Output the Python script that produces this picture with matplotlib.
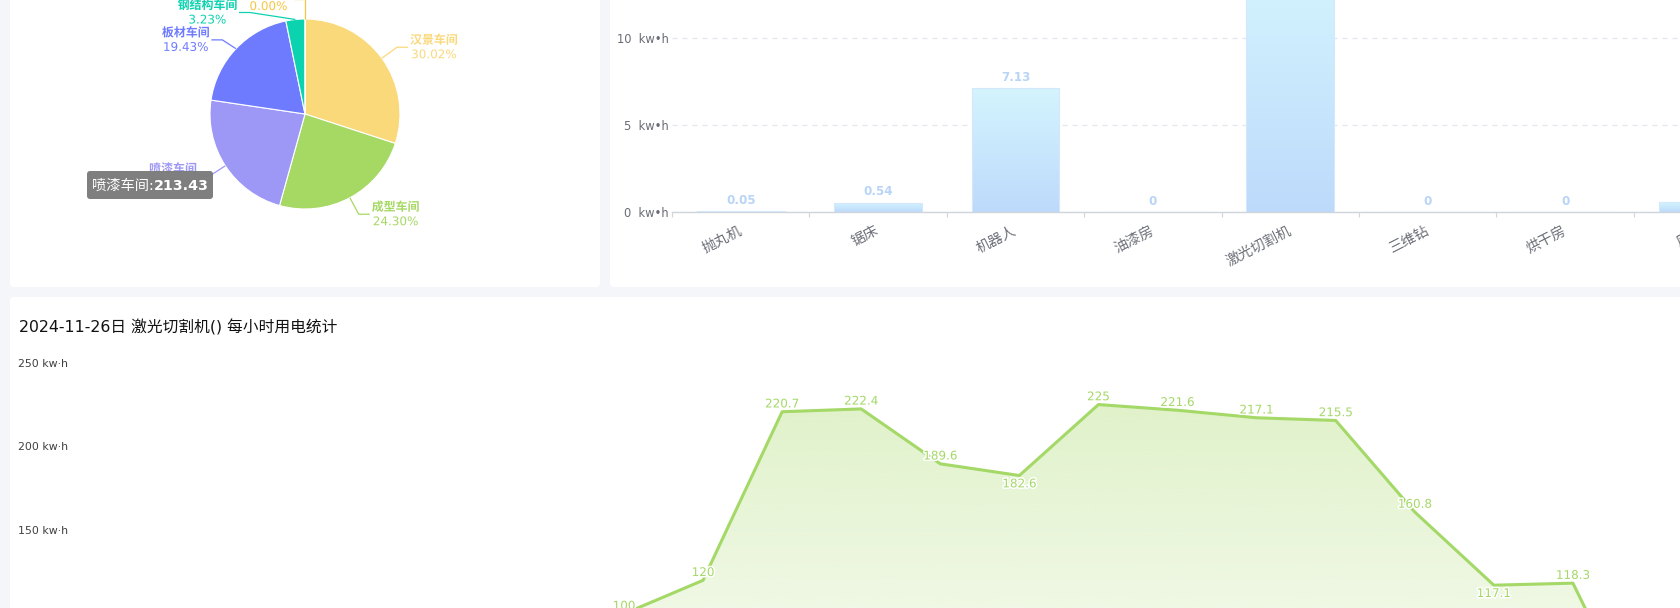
import numpy as np
import matplotlib
matplotlib.use('Agg')
import matplotlib.pyplot as plt
import matplotlib.patheffects as pe
from matplotlib.patches import FancyBboxPatch
from matplotlib.colors import LinearSegmentedColormap, to_rgb

# Latin glyphs from DejaVu, Chinese glyphs fall back to Noto Sans CJK
plt.rcParams['font.family'] = ['DejaVu Sans', 'Noto Sans CJK SC']

W, H, DPI = 1681, 608, 100

# ---- workshop energy share (pie) ----
workshops = ['汉景车间', '成型车间', '喷漆车间', '板材车间', '钢结构车间', '装配车间']
workshop_kwh = [278.33, 225.30, 213.43, 180.15, 29.95, 0.0]
workshop_colors = ['#fad97b', '#a6d864', '#9d97f5', '#6e7bff', '#0bd3b0', '#f5c542']
highlight = '喷漆车间'

# ---- device energy (bar) ----
devices = ['抛丸机', '锯床', '机器人', '油漆房', '激光切割机', '三维钻', '烘干房', '风机']
device_kwh = [0.05, 0.54, 7.13, 0, 13.86, 0, 0, 0.56]

# ---- hourly energy of one device (area line) ----
report_date = '2024-11-26'
device_name = '激光切割机'
hours = [f'{h:02d}:00' for h in range(24)]
hourly_kwh = [12.4, 11.8, 12.1, 11.6, 12.0, 13.5, 48.2, 100, 120, 220.7, 222.4,
              189.6, 182.6, 225, 221.6, 217.1, 215.5, 160.8, 117.1, 118.3,
              22.0, 12.6, 11.9, 12.2]


def fx(x):
    return x / W


def fy(y):
    return 1 - y / H


fig = plt.figure(figsize=(W / DPI, H / DPI), dpi=DPI, facecolor='#f5f6f9')
renderer = fig.canvas.get_renderer()

# ---- dashboard cards ----
bg = fig.add_axes([0, 0, 1, 1], zorder=-5)
bg.set_xlim(0, W)
bg.set_ylim(H, 0)
bg.axis('off')
for x0, y0, x1, y1 in [(10, -20, 600, 287), (610, -20, W + 20, 287), (10, 297, W + 20, H + 20)]:
    bg.add_patch(FancyBboxPatch((x0, y0), x1 - x0, y1 - y0,
                                boxstyle='round,pad=0,rounding_size=4',
                                fc='white', ec='none'))

# ---- pie ----
ax_pie = fig.add_axes([0, 0, 1, 1], zorder=2)
cx, cy, R = 305, 114, 95
wedges, _ = ax_pie.pie(workshop_kwh, colors=workshop_colors, center=(cx, cy), radius=R,
                       startangle=-90, counterclock=True,
                       wedgeprops=dict(ec='white', lw=0.8))
ax_pie.set_xlim(0, W)
ax_pie.set_ylim(H, 0)
ax_pie.set_aspect('auto')
ax_pie.axis('off')

total = sum(workshop_kwh)
L1, L2 = 18.7, 11
elbow_fix = {4: (250, 12.5), 5: (305, -1)}   # labels pushed aside near the top
elbow_shift = {3: 4}
halo = [pe.withStroke(linewidth=2.2, foreground='white')]
for i, (w, name, v, col) in enumerate(zip(wedges, workshops, workshop_kwh, workshop_colors)):
    th = np.deg2rad((w.theta1 + w.theta2) / 2)
    ex, ey = cx + R * np.cos(th), cy + R * np.sin(th)
    if i in elbow_fix:
        bx, by = elbow_fix[i]
    else:
        bx, by = cx + (R + L1) * np.cos(th), cy + (R + L1) * np.sin(th) + elbow_shift.get(i, 0)
    side = 1 if np.cos(th) > 0.01 else -1
    tx = bx + side * L2
    ax_pie.plot([ex, bx, tx], [ey, by, by], color=col, lw=0.9, solid_capstyle='butt')
    t1 = ax_pie.text(0, by - 7, name, color=col, fontsize=8.6, fontweight='bold',
                     ha='center', va='center', path_effects=halo)
    t2 = ax_pie.text(0, by + 7.5, f'{v / total * 100:.2f}%', color=col, fontsize=8.6,
                     ha='center', va='center', path_effects=halo)
    bw = max(t1.get_window_extent(renderer).width, t2.get_window_extent(renderer).width)
    mid = tx + side * (2 + bw / 2)
    t1.set_x(mid)
    t2.set_x(mid)

# tooltip for the hovered slice
hi = workshops.index(highlight)
ax_pie.add_patch(FancyBboxPatch((87, 171), 126, 28, boxstyle='round,pad=0,rounding_size=3',
                                fc='#7b7b7b', ec='none', alpha=0.97, zorder=6))
tn = ax_pie.text(92, 185.5, f'{highlight}:', color='white', fontsize=10.3, ha='left',
                 va='center', zorder=7)
tw = tn.get_window_extent(renderer).width
ax_pie.text(92 + tw, 185.5, f'{workshop_kwh[hi]:.2f}', color='white', fontsize=10.3,
            fontweight='bold', ha='left', va='center', zorder=7)

# ---- bar chart ----
cat_w, ppu, y_base, ymax = 137.4, 17.36, 212, 15
n = len(devices)
ax_bar = fig.add_axes([fx(672), fy(y_base), n * cat_w / W, ymax * ppu / H], zorder=2)
ax_bar.patch.set_alpha(0)
xs = np.arange(n)
bars = ax_bar.bar(xs, device_kwh, width=0.64, color='none', ec='#d3e8fb', lw=0.8, zorder=3)
grad = np.linspace(0, 1, 256)[:, None]
bar_cmap = LinearSegmentedColormap.from_list('barfill', ['#bddafb', '#d4f4fe'])
for b in bars:
    if b.get_height() <= 0:
        continue
    im = ax_bar.imshow(grad, cmap=bar_cmap, origin='lower', aspect='auto', zorder=2,
                       extent=(b.get_x(), b.get_x() + b.get_width(), 0, b.get_height()))
    im.set_clip_path(b)
for b, v in zip(bars, device_kwh):
    ax_bar.annotate(f'{v:g}', (b.get_x() + b.get_width() / 2, v), xytext=(0, 3),
                    textcoords='offset points', ha='center', va='bottom',
                    color='#b8d4f6', fontsize=8.6, fontweight='bold', zorder=4)
ax_bar.set_xlim(-0.5, n - 0.5)
ax_bar.set_ylim(0, ymax)
yt = np.arange(0, ymax + 1, 5)
ax_bar.set_yticks(yt, [f'{int(t)}  kw•h' for t in yt])
ax_bar.tick_params(axis='y', length=0, pad=2.5, labelsize=8.3, labelcolor='#6a6c75')
ax_bar.set_xticks(xs, devices)
ax_bar.tick_params(axis='x', length=0, pad=13, labelsize=10.3, labelcolor='#6e7079')
for lab in ax_bar.get_xticklabels():
    lab.set_rotation(27)
    lab.set_ha('right')
    lab.set_rotation_mode('anchor')
    lab.set_va('center')
ax_bar.set_xticks(np.arange(n + 1) - 0.5, minor=True)
ax_bar.tick_params(axis='x', which='minor', length=3.6, color='#d0d4db', width=0.8)
ax_bar.yaxis.grid(True, ls=(0, (4, 4)), color='#e3e7ef', lw=0.9)
ax_bar.set_axisbelow(True)
for s in ('left', 'top', 'right'):
    ax_bar.spines[s].set_visible(False)
ax_bar.spines['bottom'].set_color('#d0d4db')
ax_bar.spines['bottom'].set_linewidth(1)

# ---- hourly area line ----
x0, step, y_top, ppu2, vmax = 70.4, 79.08, 362.7, 1.674, 250
ax_line = fig.add_axes([fx(x0), fy(y_top + vmax * ppu2), (len(hours) - 1) * step / W,
                        vmax * ppu2 / H], zorder=2)
ax_line.patch.set_alpha(0)
hx = np.arange(len(hours))
green = '#a4d867'
ax_line.plot(hx, hourly_kwh, color=green, lw=2.2, solid_joinstyle='round', zorder=3)
area = ax_line.fill_between(hx, hourly_kwh, 0, color='none')
rgb = np.array(to_rgb('#a5d863'))
fill_img = np.zeros((256, 1, 4))
fill_img[..., :3] = rgb
fill_img[:, 0, 3] = np.linspace(0.03, 0.34, 256)
im = ax_line.imshow(fill_img, origin='lower', aspect='auto', zorder=2,
                    extent=(0, len(hours) - 1, 0, max(hourly_kwh)))
im.set_clip_path(area.get_paths()[0], transform=ax_line.transData)
for i, v in enumerate(hourly_kwh):
    prev_v = hourly_kwh[i - 1] if i > 0 else np.inf
    next_v = hourly_kwh[i + 1] if i < len(hourly_kwh) - 1 else np.inf
    below = v < prev_v and v < next_v
    ax_line.annotate(f'{v:g}', (i, v), xytext=(0, -6 if below else 5.6),
                     textcoords='offset points', ha='center', va='center',
                     color=green, fontsize=8.6, zorder=4, path_effects=halo)
ax_line.set_xlim(0, len(hours) - 1)
ax_line.set_ylim(0, vmax)
yt2 = np.arange(0, vmax + 1, 50)
ax_line.set_yticks(yt2, [f'{int(t)} kw·h' for t in yt2])
ax_line.tick_params(axis='y', length=0, pad=1.8, labelsize=7.9, labelcolor='#404040')
ax_line.set_xticks(hx, hours)
ax_line.tick_params(axis='x', length=0)
for s in ax_line.spines.values():
    s.set_visible(False)

fig.text(fx(19), fy(327), f'{report_date}日 {device_name}() 每小时用电统计',
         fontsize=11.3, color='#111111', ha='left', va='center')

fig.savefig('out.png', dpi=DPI, facecolor=fig.get_facecolor())
